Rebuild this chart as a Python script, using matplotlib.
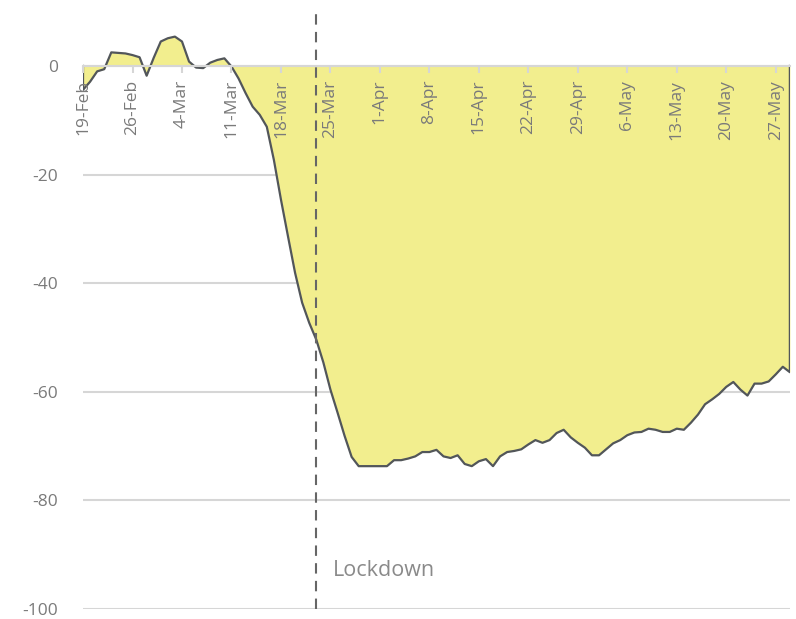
import matplotlib
import matplotlib.pyplot as plt
import numpy as np
import pandas as pd

matplotlib.rcParams["font.family"] = ["Open Sans", "DejaVu Sans"]

# daily % change vs baseline, 19 Feb - 29 May 2020
dates = pd.date_range("2020-02-19", "2020-05-29")
change = [
    -4.4, -2.9, -1.0, -0.6, 2.5, 2.4, 2.3, 2.0, 1.6, -1.8,
    1.5, 4.5, 5.1, 5.4, 4.5, 0.8, -0.3, -0.4, 0.6, 1.1,
    1.4, -0.1, -2.3, -5.0, -7.5, -9.0, -11.2, -17.3, -24.6, -31.4,
    -38.1, -43.6, -47.3, -50.4, -54.6, -59.6, -63.8, -68.1, -72.0, -73.7,
    -73.7, -73.7, -73.7, -73.7, -72.6, -72.6, -72.3, -71.9, -71.1, -71.1,
    -70.7, -71.9, -72.2, -71.7, -73.3, -73.7, -72.8, -72.4, -73.7, -71.9,
    -71.1, -70.9, -70.6, -69.7, -68.9, -69.4, -68.9, -67.6, -67.0, -68.4,
    -69.4, -70.3, -71.7, -71.7, -70.6, -69.5, -68.9, -68.0, -67.5, -67.4,
    -66.8, -67.0, -67.4, -67.4, -66.8, -67.0, -65.7, -64.2, -62.3, -61.4,
    -60.4, -59.1, -58.2, -59.6, -60.7, -58.5, -58.5, -58.1, -56.8, -55.4,
    -56.4,
]
tick_dates = pd.date_range("2020-02-19", "2020-05-27", freq="7D")
tick_labels = ["19-Feb", "26-Feb", "4-Mar", "11-Mar", "18-Mar", "25-Mar", "1-Apr",
               "8-Apr", "15-Apr", "22-Apr", "29-Apr", "6-May", "13-May", "20-May", "27-May"]
y_ticks = [0, -20, -40, -60, -80, -100]
y_labels = ["0", "-20", "-40", "-60", "-80", "-100"]
lockdown = pd.Timestamp("2020-03-23")

fill_col = "#f2ee8e"
line_col = "#52565a"
grid_col = "#d6d6d6"
text_col = "#7a7a7a"

fig = plt.figure(figsize=(7.96, 6.19), dpi=100)
ax = fig.add_axes([0.1043, 0.0162, 0.888, 0.965])

for y in y_ticks:
    ax.axhline(y, color=grid_col, lw=1.5, zorder=1)

ax.fill_between(dates, 0, change, color=fill_col, lw=0, zorder=2)
# outline incl. the vertical edges at both ends
x_edge = np.concatenate([dates.values[:1], dates.values, dates.values[-1:]])
y_edge = np.concatenate([[0], change, [0]])
ax.plot(x_edge, y_edge, color=line_col, lw=1.6, zorder=3, solid_joinstyle="round")

ax.axvline(lockdown, color="#666666", lw=1.5, ls=(0, (5, 3.5)), zorder=4)
ax.text(lockdown + pd.Timedelta(days=2.4), -93, "Lockdown", color="#8a8a8a",
        fontsize=15.5, va="center", ha="left")

ax.set_xlim(dates[0], dates[-1])
ax.set_ylim(-100, 10)

for side in ["top", "left", "right"]:
    ax.spines[side].set_visible(False)
ax.spines["bottom"].set_position(("data", 0))
ax.spines["bottom"].set_color(grid_col)
ax.spines["bottom"].set_linewidth(1.5)
ax.spines["bottom"].set_zorder(5)
ax.xaxis.set_zorder(4)

ax.set_xticks(tick_dates)
ax.set_xticklabels(tick_labels)
ax.set_yticks(y_ticks)
ax.set_yticklabels(y_labels)
ax.tick_params(axis="x", length=5, width=1.5, color=grid_col, pad=5,
               labelsize=12.5, labelcolor=text_col, labelrotation=90)
ax.tick_params(axis="y", length=0, pad=18, labelsize=12.5, labelcolor=text_col)

fig.savefig("out.png", dpi=100)
